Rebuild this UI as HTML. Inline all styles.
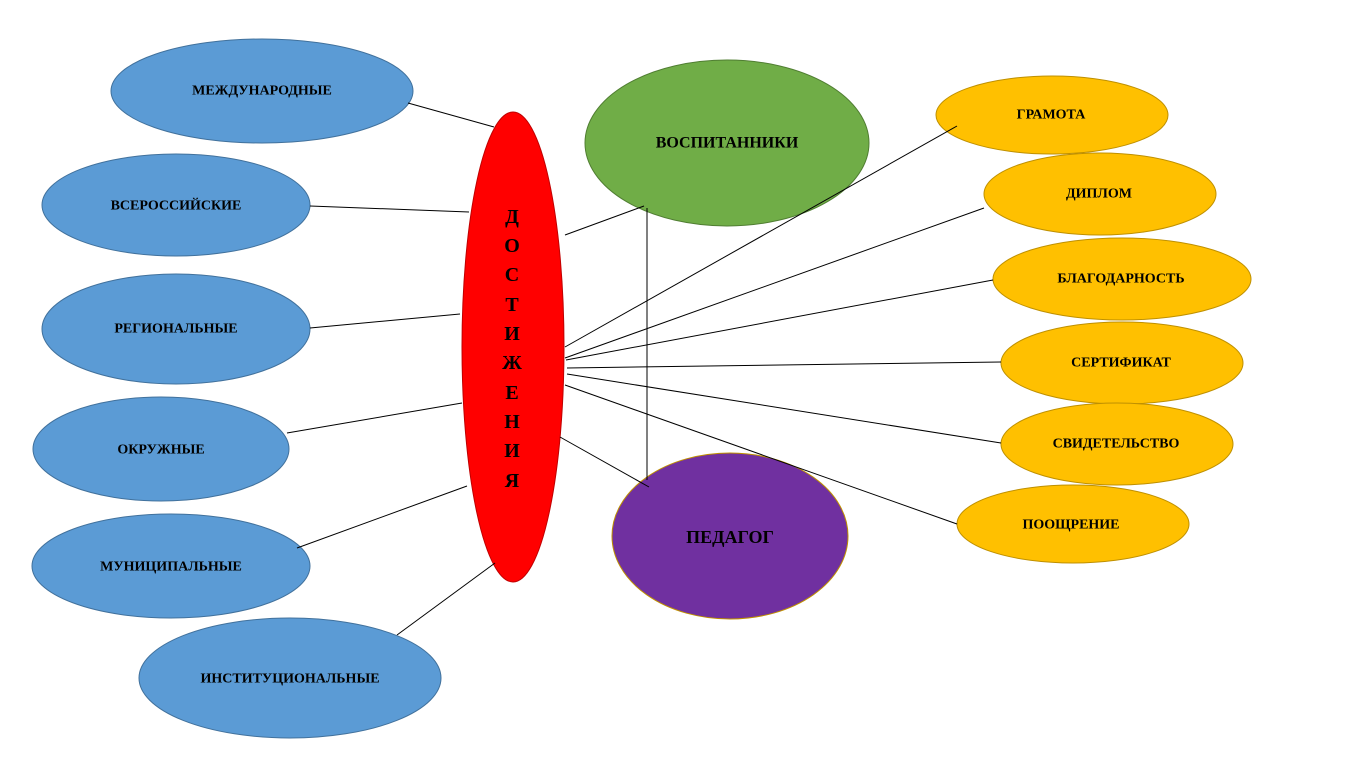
<!DOCTYPE html>
<html><head><meta charset="utf-8"><style>
html,body{margin:0;padding:0;background:#fff;width:1365px;height:767px;overflow:hidden}
svg text{font-family:"Liberation Serif",serif;font-weight:bold;text-anchor:middle;dominant-baseline:central;fill:#000}
</style></head><body>
<svg width="1365" height="767" viewBox="0 0 1365 767" xmlns="http://www.w3.org/2000/svg">
<g fill="#5b9bd5" stroke="#41719c" stroke-width="1">
<ellipse cx="262" cy="91" rx="151" ry="52"/>
<ellipse cx="176" cy="205" rx="134" ry="51"/>
<ellipse cx="176" cy="329" rx="134" ry="55"/>
<ellipse cx="161" cy="449" rx="128" ry="52"/>
<ellipse cx="171" cy="566" rx="139" ry="52"/>
<ellipse cx="290" cy="678" rx="151" ry="60"/>
</g>
<ellipse cx="513" cy="347" rx="51" ry="235" fill="#ff0000" stroke="#c00000"/>
<ellipse cx="727" cy="143" rx="142" ry="83" fill="#70ad47" stroke="#507e32"/>
<ellipse cx="730" cy="536" rx="118" ry="83" fill="#7030a0" stroke="#bf9000"/>
<g fill="#ffc000" stroke="#bf9000">
<ellipse cx="1052" cy="115" rx="116" ry="39"/>
<ellipse cx="1100" cy="194" rx="116" ry="41"/>
<ellipse cx="1122" cy="279" rx="129" ry="41"/>
<ellipse cx="1122" cy="363" rx="121" ry="41"/>
<ellipse cx="1117" cy="444" rx="116" ry="41"/>
<ellipse cx="1073" cy="524" rx="116" ry="39"/>
</g>
<g stroke="#000" stroke-width="1">
<line x1="408" y1="103" x2="494" y2="127"/>
<line x1="310" y1="206" x2="469" y2="212"/>
<line x1="310" y1="328" x2="460" y2="314"/>
<line x1="287" y1="433" x2="462" y2="403"/>
<line x1="297" y1="548" x2="467" y2="486"/>
<line x1="397" y1="635" x2="495" y2="563"/>
<line x1="565" y1="235" x2="644" y2="206"/>
<line x1="647" y1="208" x2="647" y2="480"/>
<line x1="560" y1="437" x2="649" y2="487"/>
<line x1="565" y1="347" x2="957" y2="126"/>
<line x1="565" y1="358" x2="984" y2="208"/>
<line x1="566" y1="360" x2="993" y2="280"/>
<line x1="567" y1="368" x2="1001" y2="362"/>
<line x1="567" y1="374" x2="1001" y2="443"/>
<line x1="565" y1="385" x2="957" y2="524"/>
</g>
<g font-size="14">
<text x="262" y="91">МЕЖДУНАРОДНЫЕ</text>
<text x="176" y="206">ВСЕРОССИЙСКИЕ</text>
<text x="176" y="329">РЕГИОНАЛЬНЫЕ</text>
<text x="161" y="450">ОКРУЖНЫЕ</text>
<text x="171" y="567">МУНИЦИПАЛЬНЫЕ</text>
<text x="290" y="679">ИНСТИТУЦИОНАЛЬНЫЕ</text>
</g>
<g font-size="20">
<text x="512" y="217">Д</text><text x="512" y="246">О</text><text x="512" y="275">С</text>
<text x="512" y="305">Т</text><text x="512" y="334">И</text><text x="512" y="363">Ж</text>
<text x="512" y="393">Е</text><text x="512" y="422">Н</text><text x="512" y="451">И</text>
<text x="512" y="481">Я</text>
</g>
<text x="727" y="143" font-size="16">ВОСПИТАННИКИ</text>
<text x="730" y="537" font-size="18">ПЕДАГОГ</text>
<g font-size="14">
<text x="1051" y="115">ГРАМОТА</text>
<text x="1099" y="194">ДИПЛОМ</text>
<text x="1121" y="279">БЛАГОДАРНОСТЬ</text>
<text x="1121" y="363">СЕРТИФИКАТ</text>
<text x="1116" y="444">СВИДЕТЕЛЬСТВО</text>
<text x="1071" y="525">ПООЩРЕНИЕ</text>
</g>
</svg>
</body></html>
